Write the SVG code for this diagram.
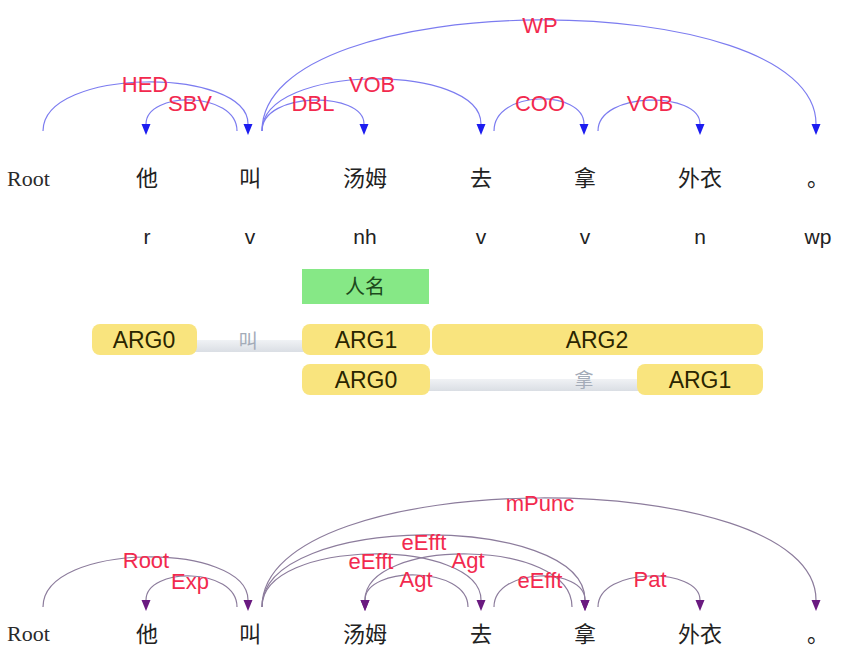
<svg xmlns="http://www.w3.org/2000/svg" width="866" height="664" viewBox="0 0 866 664">
<style>
.w{font-family:"Liberation Serif","Noto Sans CJK SC",serif;font-size:22px;fill:#222;text-anchor:middle;dominant-baseline:central}
.root{font-family:"Liberation Serif",serif;font-size:22px;fill:#2a2a2a;dominant-baseline:central}
.pos{font-family:"Liberation Sans",Arial,sans-serif;font-size:21px;fill:#222;text-anchor:middle;dominant-baseline:central}
.lbl{font-family:"Liberation Sans",Arial,sans-serif;font-size:22px;fill:#f2294e;text-anchor:middle;dominant-baseline:central}
.arcT{fill:none;stroke:#7c7cf0;stroke-width:1.2;marker-end:url(#ahT)}
.arcB{fill:none;stroke:#8c7c9c;stroke-width:1.2;marker-end:url(#ahB)}
.arg{fill:#f9e47e}
.argt{font-family:"Liberation Sans",Arial,sans-serif;font-size:23px;fill:#2a2500;text-anchor:middle;dominant-baseline:central}
.bar{fill:url(#barg)}
.pred{font-family:"Liberation Serif","Noto Sans CJK SC",serif;font-size:19px;fill:#a3abb8;text-anchor:middle;dominant-baseline:central}
</style>
<defs>
<marker id="ahT" markerUnits="userSpaceOnUse" markerWidth="12" markerHeight="10" viewBox="0 0 12 10" refX="0" refY="5" orient="auto"><path d="M0,0.5 L11,5 L0,9.5 Z" fill="#1c1cf0"/></marker>
<marker id="ahB" markerUnits="userSpaceOnUse" markerWidth="12" markerHeight="10" viewBox="0 0 12 10" refX="0" refY="5" orient="auto"><path d="M0,0.5 L11,5 L0,9.5 Z" fill="#6a1a80"/></marker>
<linearGradient id="barg" x1="0" y1="0" x2="0" y2="1"><stop offset="0" stop-color="#f0f2f5"/><stop offset="1" stop-color="#dadee4"/></linearGradient>
</defs>
<rect width="866" height="664" fill="#fff"/>

<g id="connectors-top">
<path class="arcT" d="M43,131 C43,66.8 248,66.8 248,124"/>
<path class="arcT" d="M237,131 C237,90.8 146,90.8 146,124"/>
<path class="arcT" d="M262,131 C262,91 364,91 364,124"/>
<path class="arcT" d="M262,131 C262,62.8 481,62.8 481,124"/>
<path class="arcT" d="M262,131 C262,-15.9 816,-15.9 816,124"/>
<path class="arcT" d="M494,131 C494,89.5 584,89.5 584,124"/>
<path class="arcT" d="M598,131 C598,91 700,91 700,124"/>
<text class="lbl" x="145" y="84">HED</text>
<text class="lbl" x="190" y="103">SBV</text>
<text class="lbl" x="313" y="103">DBL</text>
<text class="lbl" x="372" y="84">VOB</text>
<text class="lbl" x="540" y="25">WP</text>
<text class="lbl" x="540" y="103">COO</text>
<text class="lbl" x="650" y="103">VOB</text>
</g>

<g id="words-top">
<g id="t-root"><text class="root" x="7" y="178">Root</text></g>
<g id="t-ta"><text class="w" x="147" y="178">他</text><text class="pos" x="147" y="236">r</text></g>
<g id="t-jiao"><text class="w" x="250" y="178">叫</text><text class="pos" x="250" y="236">v</text></g>
<g id="t-tangmu"><text class="w" x="365" y="178">汤姆</text><text class="pos" x="365" y="236">nh</text></g>
<g id="t-qu"><text class="w" x="481" y="178">去</text><text class="pos" x="481" y="236">v</text></g>
<g id="t-na"><text class="w" x="585" y="178">拿</text><text class="pos" x="585" y="236">v</text></g>
<g id="t-waiyi"><text class="w" x="700" y="178">外衣</text><text class="pos" x="700" y="236">n</text></g>
<g id="t-period"><text class="w" x="818" y="178">。</text><text class="pos" x="818" y="236">wp</text></g>
</g>

<g id="ner">
<rect x="302" y="269" width="127" height="35" fill="#86e886"/>
<text class="w" x="365" y="287" style="fill:#1d4a1d;font-size:20px">人名</text>
</g>

<g id="srl-jiao">
<rect class="bar" x="190" y="340" width="118" height="12"/>
<text class="pred" x="248" y="341">叫</text>
<rect class="arg" x="92" y="324" width="105" height="31" rx="8"/>
<text class="argt" x="144" y="340">ARG0</text>
<rect class="arg" x="302" y="324" width="128" height="31" rx="8"/>
<text class="argt" x="366" y="340">ARG1</text>
<rect class="arg" x="432" y="324" width="331" height="31" rx="8"/>
<text class="argt" x="597" y="340">ARG2</text>
</g>

<g id="srl-na">
<rect class="bar" x="425" y="379" width="218" height="12"/>
<text class="pred" x="584" y="380">拿</text>
<rect class="arg" x="302" y="364" width="128" height="31" rx="8"/>
<text class="argt" x="366" y="380">ARG0</text>
<rect class="arg" x="637" y="364" width="126" height="31" rx="8"/>
<text class="argt" x="700" y="380">ARG1</text>
</g>

<g id="connectors-bottom">
<path class="arcB" d="M43,607 C43,541.5 248,541.5 248,600"/>
<path class="arcB" d="M237,607 C237,566.8 146,566.8 146,600"/>
<path class="arcB" d="M262,607 C262,462.8 816,462.8 816,600"/>
<path class="arcB" d="M262,607 C262,512.1 585,512.1 585,600"/>
<path class="arcB" d="M262,607 C262,537.5 481,537.5 481,600"/>
<path class="arcB" d="M572,607 C572,537.5 365,537.5 365,600"/>
<path class="arcB" d="M468,607 C468,565.5 365,565.5 365,600"/>
<path class="arcB" d="M494,607 C494,566.8 585,566.8 585,600"/>
<path class="arcB" d="M598,607 C598,566.8 700,566.8 700,600"/>
<text class="lbl" x="146" y="560">Root</text>
<text class="lbl" x="190" y="581">Exp</text>
<text class="lbl" x="540" y="503">mPunc</text>
<text class="lbl" x="424" y="542">eEfft</text>
<text class="lbl" x="371" y="561">eEfft</text>
<text class="lbl" x="468" y="560">Agt</text>
<text class="lbl" x="416" y="579">Agt</text>
<text class="lbl" x="540" y="580">eEfft</text>
<text class="lbl" x="650" y="579">Pat</text>
</g>

<g id="words-bottom">
<g id="b-root"><text class="root" x="7" y="633">Root</text></g>
<g id="b-ta"><text class="w" x="147" y="634">他</text></g>
<g id="b-jiao"><text class="w" x="250" y="634">叫</text></g>
<g id="b-tangmu"><text class="w" x="365" y="634">汤姆</text></g>
<g id="b-qu"><text class="w" x="481" y="634">去</text></g>
<g id="b-na"><text class="w" x="585" y="634">拿</text></g>
<g id="b-waiyi"><text class="w" x="700" y="634">外衣</text></g>
<g id="b-period"><text class="w" x="818" y="634">。</text></g>
</g>
</svg>
